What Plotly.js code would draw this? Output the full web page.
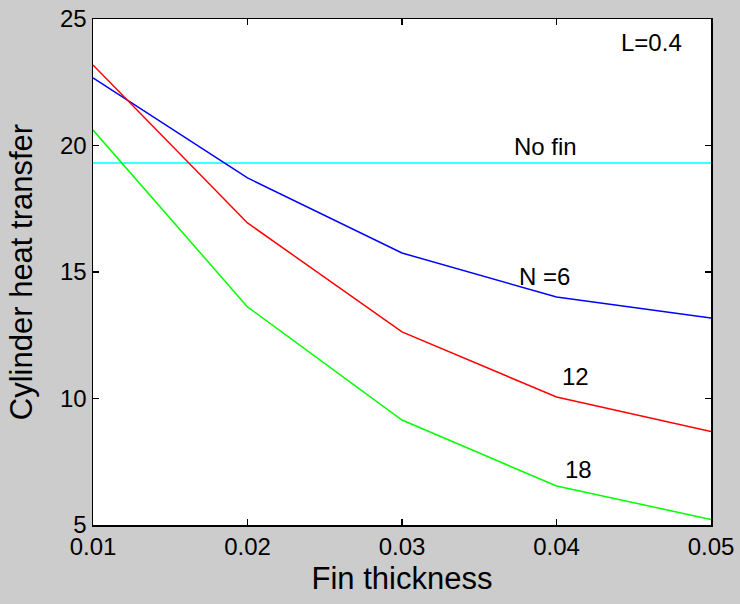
<!DOCTYPE html>
<html>
<head>
<meta charset="utf-8">
<script src="https://cdn.plot.ly/plotly-3.0.1.min.js"></script>
<style>html,body{margin:0;padding:0;background:#cccccc;}#chart{width:740px;height:604px;}</style>
</head>
<body>
<div id="chart"></div>
<script>
const thickness = [0.01, 0.02, 0.03, 0.04, 0.05];
const n6 = [22.67, 18.72, 15.75, 14.01, 13.18];
const n12 = [23.18, 16.94, 12.63, 10.06, 8.69];
const n18 = [20.61, 13.62, 9.15, 6.54, 5.22];
const noFin = [19.31, 19.31];
const noFinX = [0.01, 0.05];
const xTicks = [0.01, 0.02, 0.03, 0.04, 0.05];
const xTickText = ['0.01', '0.02', '0.03', '0.04', '0.05'];
const yTicks = [5, 10, 15, 20, 25];
const labels = [
  {text: 'L=0.4', x: 0.04612, y: 24.07},
  {text: 'No fin', x: 0.03926, y: 19.96},
  {text: 'N =6', x: 0.03922, y: 14.82},
  {text: '12', x: 0.04126, y: 10.87},
  {text: '18', x: 0.04142, y: 7.21}
];

const font = 'Liberation Sans, Arial, sans-serif';
const traces = [
  {x: noFinX, y: noFin, mode: 'lines', line: {color: '#00ffff', width: 1.5}},
  {x: thickness, y: n6, mode: 'lines', line: {color: '#0000ff', width: 1.5}},
  {x: thickness, y: n12, mode: 'lines', line: {color: '#ff0000', width: 1.5}},
  {x: thickness, y: n18, mode: 'lines', line: {color: '#00ff00', width: 1.5}}
];

const axisCommon = {
  showgrid: false, zeroline: false, showline: true, linecolor: '#000000', linewidth: 1.5,
  mirror: 'ticks', ticks: 'inside', ticklen: 6, tickwidth: 1.5, tickcolor: '#000000',
  tickfont: {family: font, size: 24, color: '#000000'}
};

const layout = {
  width: 740, height: 604,
  paper_bgcolor: '#cccccc', plot_bgcolor: '#ffffff',
  showlegend: false,
  margin: {l: 93, r: 29, t: 19, b: 79},
  xaxis: Object.assign({}, axisCommon, {
    range: [0.01, 0.05], tickvals: xTicks, ticktext: xTickText,
    title: {text: 'Fin thickness', font: {family: font, size: 31, color: '#000000'}, standoff: 8}
  }),
  yaxis: Object.assign({}, axisCommon, {
    range: [5, 25], tickvals: yTicks,
    title: {text: 'Cylinder heat transfer', font: {family: font, size: 31, color: '#000000'}, standoff: 18}
  }),
  annotations: labels.map(l => ({
    text: l.text, x: l.x, y: l.y, xref: 'x', yref: 'y', showarrow: false,
    font: {family: font, size: 24, color: '#000000'}
  }))
};

Plotly.newPlot('chart', traces, layout, {displayModeBar: false, staticPlot: true});
</script>
</body>
</html>
